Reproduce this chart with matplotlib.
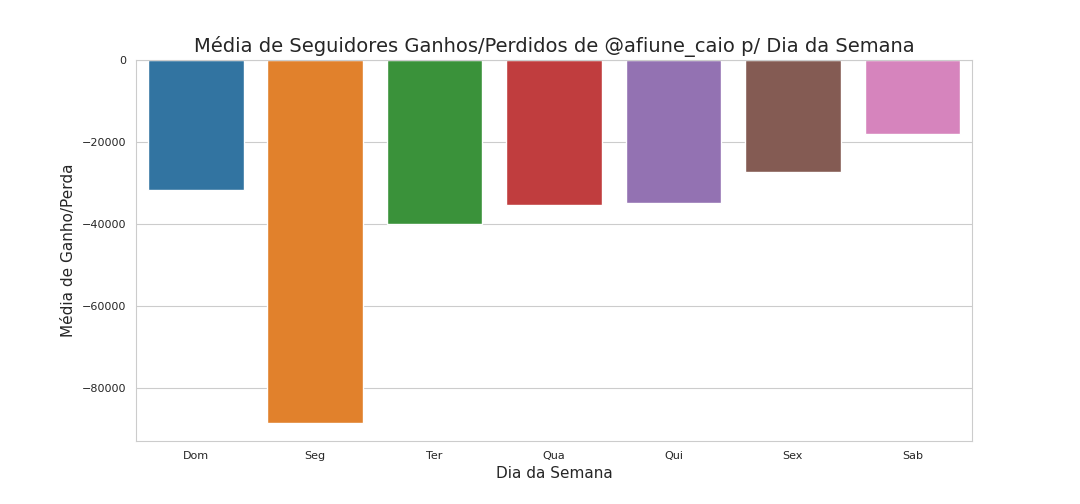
import matplotlib
matplotlib.use("Agg")
import matplotlib.pyplot as plt
import seaborn as sns

days = ["Dom", "Seg", "Ter", "Qua", "Qui", "Sex", "Sab"]
values = [-31700, -88500, -40000, -35400, -34900, -27300, -18000]

sns.set_style("whitegrid")
fig = plt.figure(figsize=(10.8, 5.04), dpi=100)
ax = fig.add_axes([0.126, 0.125, 0.774, 0.756])
sns.barplot(x=days, y=values, hue=days, palette="tab10", legend=False, ax=ax)
ax.set_title("Média de Seguidores Ganhos/Perdidos de @afiune_caio p/ Dia da Semana", fontsize=14)
ax.set_xlabel("Dia da Semana", fontsize=11)
ax.set_ylabel("Média de Ganho/Perda", fontsize=11)
ax.tick_params(labelsize=8)
fig.savefig("out.png", dpi=100)
